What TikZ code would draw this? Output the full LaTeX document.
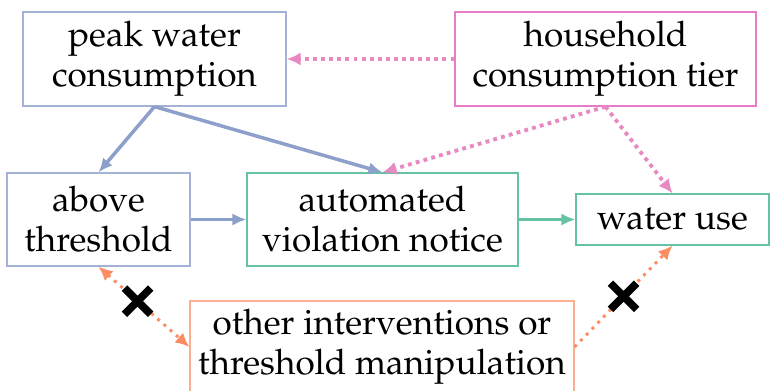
\documentclass[tikz,border=0pt]{standalone}
\usepackage[T1]{fontenc}
\usepackage{mathpazo}
\usepackage{tikz}
\usetikzlibrary{arrows.meta,shapes.misc}

\definecolor{setblue}{HTML}{8DA0CB}
\definecolor{setgreen}{HTML}{66C2A5}
\definecolor{setorange}{HTML}{FC8D62}
\definecolor{setpink}{HTML}{E78AC3}

\tikzset{
  box/.style={draw=#1, line width=0.7pt, inner sep=0pt, align=center,
    font=\fontsize{20}{22.8}\selectfont},
  solidarrow/.style={draw=#1, line width=2pt, -{Latex[length=8pt,width=7pt]}},
  dotarrow/.style={draw=#1, line width=2.2pt, dash pattern=on 2.2pt off 2.4pt,
    -{Latex[length=8pt,width=7.5pt]}},
  blocked/.style={cross out, draw=black, solid, line width=4.4pt, minimum size=10.5pt,
    inner sep=0pt}
}

\begin{document}
\begin{tikzpicture}[x=0.02cm, y=-0.02cm]
    \useasboundingbox (0,0) rectangle (770,391);
    %boxes
    \node[box=setblue!80, minimum width=5.26cm, minimum height=1.88cm] (peak) at (154.5,59) {peak water\\consumption};
    \node[box=setpink!90!magenta, minimum width=6.02cm, minimum height=1.88cm] (tier) at (605.5,59) {household\\consumption tier};
    \node[box=setblue!80, minimum width=3.66cm, minimum height=1.86cm] (above) at (98.5,219.5) {above\\threshold};
    \node[box=setgreen, minimum width=5.42cm, minimum height=1.86cm] (notice) at (382.5,219.5) {automated\\violation notice};
    \node[box=setgreen, minimum width=3.86cm, minimum height=1.02cm] (use) at (672.5,219.5) {water use};
    \node[box=setorange!70, minimum width=7.68cm, minimum height=1.84cm] (other) at (382,347) {other interventions or\\threshold manipulation};
    %solid links
    \draw[solidarrow=setblue] (peak.south) -- (above.north);
    \draw[solidarrow=setblue] (peak.south) -- (notice.north);
    \draw[solidarrow=setblue] (above.east) -- (notice.west);
    \draw[solidarrow=setgreen] (notice.east) -- (use.west);
    %dotted links
    \draw[dotarrow=setpink] (tier.west) -- (peak.east);
    \draw[dotarrow=setpink] (tier.south) -- (notice.north);
    \draw[dotarrow=setpink] (tier.south) -- (use.north);
    \draw[dotarrow=setorange, line width=1.7pt, dash pattern=on 1.7pt off 3pt, {Latex[length=8pt,width=7.5pt]}-{Latex[length=8pt,width=7.5pt]}]
        (above.south) -- node[pos=0.43, blocked] (cutleft) {} (other.west);
    \draw[dotarrow=setorange, line width=1.7pt, dash pattern=on 1.7pt off 3pt]
        (other.east) -- node[midway, blocked] (cutright) {} (use.south);
\end{tikzpicture}
\end{document}
